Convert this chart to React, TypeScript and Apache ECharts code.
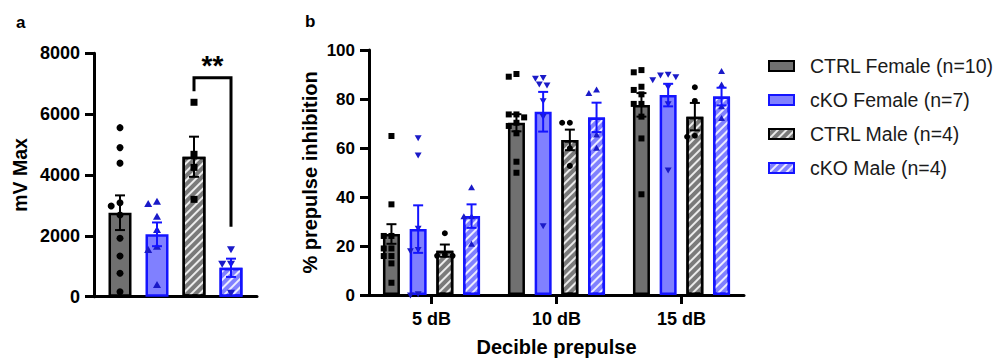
import React, { useEffect, useRef } from "react";
import * as echarts from "echarts";

// ---------------- DATA ----------------
const groups = ["CTRL Female (n=10)", "cKO Female (n=7)", "CTRL Male (n=4)", "cKO Male (n=4)"];
const categoriesA = [""];
const categoriesB = ["5 dB", "10 dB", "15 dB"];
const yTicksA = [0, 2000, 4000, 6000, 8000];
const yTicksB = [0, 20, 40, 60, 80, 100];

// Panel a: mV Max (mean, SEM, individual animals)
const meanA = [2760, 2050, 4600, 950];
const semA = [570, 390, 660, 300];
const pointsA_ctrlF = [5556, 4900, 4390, 3090, 2980, 2686, 1920, 1340, 770, 165];
const pointsA_ckoF = [3123, 3047, 2630, 2193, 1644, 1535, 385];
const pointsA_ctrlM = [6390, 4680, 4250, 3200];
const pointsA_ckoM = [1558, 1080, 1080, 130];
const sigA = { label: "**", top: 7200, leftEnd: 6750, rightEnd: 2300, textAt: 7600 };

// Panel b: % prepulse inhibition, per prepulse level
const meanB_ctrlF = [24.9, 70.3, 77.6];
const semB_ctrlF = [4.0, 3.5, 4.8];
const meanB_ckoF = [26.9, 74.8, 81.6];
const semB_ckoF = [9.7, 8.1, 4.6];
const meanB_ctrlM = [18.1, 63.3, 72.8];
const semB_ctrlM = [2.5, 4.2, 5.6];
const meanB_ckoM = [32.2, 72.5, 81.0];
const semB_ckoM = [4.8, 6.0, 3.6];

const pointsB_ctrlF = [
  [64.9, 37.0, 24.1, 24.1, 19.0, 19.0, 15.9, 15.9, 12.9, 5.0],
  [90.2, 89.1, 73.7, 73.7, 72.5, 70.3, 69.0, 66.0, 54.4, 49.9],
  [91.8, 90.9, 85.0, 83.7, 81.9, 78.0, 78.0, 72.8, 63.9, 41.1],
];
const pointsB_ckoF = [
  [64.2, 57.1, 27.2, 18.6, 18.0, 0.5, 0],
  [88.8, 88.4, 86.1, 85.7, 79.3, 72.8, 28.2],
  [90.1, 89.8, 89.1, 87.8, 85.0, 78.0, 51.0],
];
const pointsB_ctrlM = [
  [25.2, 16.5, 16.0, 16.0],
  [70.3, 70.3, 59.9, 52.7],
  [84.8, 79.2, 65.0, 64.6],
];
const pointsB_ckoM = [
  [43.8, 32.0, 32.0, 20.7],
  [83.7, 82.3, 65.3, 59.9],
  [91.2, 85.7, 76.9, 72.1],
];

// ---------------- STYLE ----------------
const FONT = "'Liberation Sans', Arial, Helvetica, sans-serif";
const GRAY = "#707070";
const GRAY_H = "#7a7a7a";
const BLUE_FILL = "#8080ff";
const BLUE_LINE = "#1414ff";
const BLUE_PT = "#1a1ac8";

const hatch = {
  symbol: "rect",
  symbolSize: 1,
  dashArrayX: [1, 0],
  dashArrayY: [1.6, 3.4],
  rotation: -Math.PI / 4,
  color: "rgba(255,255,255,0.85)",
};

const groupStyles = [
  { color: GRAY, borderColor: "#000", decal: null as any, pt: "#000", line: "#000" },
  { color: BLUE_FILL, borderColor: BLUE_LINE, decal: null as any, pt: BLUE_PT, line: BLUE_LINE },
  { color: GRAY_H, borderColor: "#000", decal: hatch, pt: "#000", line: "#000" },
  { color: BLUE_FILL, borderColor: BLUE_LINE, decal: hatch, pt: BLUE_PT, line: BLUE_LINE },
];

const shapesA = ["circle", "triUp", "square", "triDown"];
const shapesB = ["square", "triDown", "circle", "triUp"];

const BAR_A = 23;
const GAP_A = 14;
const BAR_B = 17;
const GAP_B = 9.7;

function marker(shape: string, cx: number, cy: number, s: number, color: string) {
  const h = s / 2;
  if (shape === "circle") return { type: "circle", shape: { cx, cy, r: h }, style: { fill: color } };
  if (shape === "square")
    return { type: "rect", shape: { x: cx - h, y: cy - h, width: s, height: s }, style: { fill: color } };
  const k = shape === "triUp" ? 1 : -1;
  return {
    type: "polygon",
    shape: {
      points: [
        [cx, cy - k * h * 1.15],
        [cx - h * 1.15, cy + k * h * 0.85],
        [cx + h * 1.15, cy + k * h * 0.85],
      ],
    },
    style: { fill: color },
  };
}

function swarm(ys: number[], d: number): number[] {
  const order = ys.map((_, i) => i).sort((a, b) => ys[a] - ys[b]);
  const xs = new Array(ys.length).fill(0);
  const placed: number[] = [];
  const step = d * 0.55;
  const cands = [0];
  for (let k = 1; k < 10; k++) cands.push(-k * step, k * step);
  for (const i of order) {
    for (const c of cands) {
      let ok = true;
      for (const p of placed) {
        const dx = xs[p] - c;
        const dy = ys[p] - ys[i];
        if (dx * dx + dy * dy < d * d * 0.9) {
          ok = false;
          break;
        }
      }
      if (ok) {
        xs[i] = c;
        break;
      }
    }
    placed.push(i);
  }
  return xs;
}

function overlay(
  axis: number,
  gi: number,
  means: number[],
  sems: number[],
  pts: number[][],
  shape: string,
  size: number,
  offset: number,
  capHalf: number
) {
  const st = groupStyles[gi];
  return {
    type: "custom",
    xAxisIndex: axis,
    yAxisIndex: axis,
    z: 5,
    silent: true,
    data: means.map((m, j) => [j, m]),
    renderItem: (params: any, api: any) => {
      const j = api.value(0);
      const m = api.value(1);
      const c = api.coord([j, m]);
      const cx = c[0] + offset;
      const yT = api.coord([j, m + sems[j]])[1];
      const yB = api.coord([j, m - sems[j]])[1];
      const ys = pts[j].map((v) => api.coord([j, v])[1]);
      const xs = swarm(ys, size + 1);
      const ls = { stroke: st.line, lineWidth: 2 };
      const children: any[] = [];
      ys.forEach((y, k) => children.push(marker(shape, cx + xs[k], y, size, st.pt)));
      children.push({ type: "line", shape: { x1: cx, y1: yT, x2: cx, y2: yB }, style: ls });
      children.push({ type: "line", shape: { x1: cx - capHalf, y1: yT, x2: cx + capHalf, y2: yT }, style: ls });
      children.push({ type: "line", shape: { x1: cx - capHalf, y1: yB, x2: cx + capHalf, y2: yB }, style: ls });
      return { type: "group", children };
    },
  };
}

function barSeries(axis: number, gi: number, data: number[], width: number, gap: string) {
  const st = groupStyles[gi];
  const itemStyle: any = { color: st.color, borderColor: st.borderColor, borderWidth: 2.5 };
  if (st.decal) itemStyle.decal = st.decal;
  return {
    type: "bar",
    name: groups[gi],
    xAxisIndex: axis,
    yAxisIndex: axis,
    barWidth: width,
    barGap: gap,
    z: 2,
    itemStyle,
    data,
  };
}

const offA = (i: number) => (i - 1.5) * (BAR_A + GAP_A);
const offB = (i: number) => (i - 1.5) * (BAR_B + GAP_B);

const axisLabelStyle = {
  color: "#000",
  fontFamily: FONT,
  fontWeight: "bold" as const,
  fontSize: 17,
  formatter: (v: any) => String(v),
};

const option: any = {
  animation: false,
  backgroundColor: "#fff",
  textStyle: { fontFamily: FONT },
  grid: [
    { left: 94, top: 53.3, width: 163, height: 243.4, outerBoundsMode: "none", containLabel: false },
    { left: 369, top: 50, width: 375, height: 245, outerBoundsMode: "none", containLabel: false },
  ],
  legend: {
    orient: "vertical",
    left: 768,
    top: 56,
    padding: 0,
    icon: "rect",
    itemWidth: 25,
    itemHeight: 10,
    itemGap: 14,
    data: groups,
    selectedMode: false,
    textStyle: { fontFamily: FONT, fontSize: 19.5, color: "#1a1a1a", lineHeight: 20, padding: [0, 0, 0, 11] },
  },
  xAxis: [
    {
      type: "category",
      gridIndex: 0,
      data: categoriesA,
      axisLine: { lineStyle: { color: "#000", width: 3 } },
      axisTick: { show: false },
      axisLabel: { show: false },
    },
    {
      type: "category",
      gridIndex: 1,
      data: categoriesB,
      axisLine: { lineStyle: { color: "#000", width: 3 } },
      axisTick: { show: true, alignWithLabel: true, length: 9, lineStyle: { color: "#000", width: 3 } },
      axisLabel: { color: "#000", fontFamily: FONT, fontWeight: "bold", fontSize: 18, margin: 15 },
      name: "Decible prepulse",
      nameLocation: "middle",
      nameGap: 42,
      nameTextStyle: { color: "#000", fontFamily: FONT, fontWeight: "bold", fontSize: 20 },
    },
  ],
  yAxis: [
    {
      type: "value",
      gridIndex: 0,
      min: yTicksA[0],
      max: yTicksA[yTicksA.length - 1],
      interval: yTicksA[1] - yTicksA[0],
      splitLine: { show: false },
      axisLine: { show: true, lineStyle: { color: "#000", width: 3 } },
      axisTick: { show: true, length: 9, lineStyle: { color: "#000", width: 3 } },
      axisLabel: { ...axisLabelStyle, fontSize: 18, margin: 14 },
      name: "mV Max",
      nameLocation: "middle",
      nameGap: 64,
      nameTextStyle: { color: "#000", fontFamily: FONT, fontWeight: "bold", fontSize: 19.5 },
    },
    {
      type: "value",
      gridIndex: 1,
      min: yTicksB[0],
      max: yTicksB[yTicksB.length - 1],
      interval: yTicksB[1] - yTicksB[0],
      splitLine: { show: false },
      axisLine: { show: true, lineStyle: { color: "#000", width: 3 } },
      axisTick: { show: true, length: 9, lineStyle: { color: "#000", width: 3 } },
      axisLabel: { ...axisLabelStyle, margin: 14 },
      name: "% prepulse inhibition",
      nameLocation: "middle",
      nameGap: 49,
      nameTextStyle: { color: "#000", fontFamily: FONT, fontWeight: "bold", fontSize: 20 },
    },
  ],
  graphic: [
    { type: "text", left: 16, top: 14, style: { text: "a", font: `bold 17px ${FONT}`, fill: "#000" } },
    { type: "text", left: 305, top: 13, style: { text: "b", font: `bold 17px ${FONT}`, fill: "#000" } },
  ],
  series: [
    // panel a bars
    barSeries(0, 0, [meanA[0]], BAR_A, `${(GAP_A / BAR_A) * 100}%`),
    barSeries(0, 1, [meanA[1]], BAR_A, `${(GAP_A / BAR_A) * 100}%`),
    barSeries(0, 2, [meanA[2]], BAR_A, `${(GAP_A / BAR_A) * 100}%`),
    barSeries(0, 3, [meanA[3]], BAR_A, `${(GAP_A / BAR_A) * 100}%`),
    // panel b bars
    barSeries(1, 0, meanB_ctrlF, BAR_B, `${(GAP_B / BAR_B) * 100}%`),
    barSeries(1, 1, meanB_ckoF, BAR_B, `${(GAP_B / BAR_B) * 100}%`),
    barSeries(1, 2, meanB_ctrlM, BAR_B, `${(GAP_B / BAR_B) * 100}%`),
    barSeries(1, 3, meanB_ckoM, BAR_B, `${(GAP_B / BAR_B) * 100}%`),
    // panel a points + error bars
    overlay(0, 0, [meanA[0]], [semA[0]], [pointsA_ctrlF], shapesA[0], 7, offA(0), 5),
    overlay(0, 1, [meanA[1]], [semA[1]], [pointsA_ckoF], shapesA[1], 7, offA(1), 5),
    overlay(0, 2, [meanA[2]], [semA[2]], [pointsA_ctrlM], shapesA[2], 7, offA(2), 5),
    overlay(0, 3, [meanA[3]], [semA[3]], [pointsA_ckoM], shapesA[3], 7, offA(3), 5),
    // panel b points + error bars
    overlay(1, 0, meanB_ctrlF, semB_ctrlF, pointsB_ctrlF, shapesB[0], 6, offB(0), 5),
    overlay(1, 1, meanB_ckoF, semB_ckoF, pointsB_ckoF, shapesB[1], 6, offB(1), 5),
    overlay(1, 2, meanB_ctrlM, semB_ctrlM, pointsB_ctrlM, shapesB[2], 6, offB(2), 5),
    overlay(1, 3, meanB_ckoM, semB_ckoM, pointsB_ckoM, shapesB[3], 6, offB(3), 5),
    // significance bracket on panel a
    {
      type: "custom",
      xAxisIndex: 0,
      yAxisIndex: 0,
      z: 6,
      silent: true,
      data: [[0, sigA.top]],
      renderItem: (params: any, api: any) => {
        const c = api.coord([0, sigA.top]);
        const x1 = c[0] + offA(2);
        const x2 = c[0] + offA(3);
        const yTop = c[1];
        const yL = api.coord([0, sigA.leftEnd])[1];
        const yR = api.coord([0, sigA.rightEnd])[1];
        const yT = api.coord([0, sigA.textAt])[1];
        const ls = { stroke: "#000", lineWidth: 3, fill: "none" };
        return {
          type: "group",
          children: [
            { type: "polyline", shape: { points: [[x1, yL], [x1, yTop], [x2, yTop], [x2, yR]] }, style: ls },
            {
              type: "text",
              style: {
                text: sigA.label,
                x: (x1 + x2) / 2,
                y: yT,
                align: "center",
                verticalAlign: "middle",
                font: `bold 28px ${FONT}`,
                fill: "#000",
              },
            },
          ],
        };
      },
    },
  ],
};

export default function App() {
  const ref = useRef<HTMLDivElement>(null);
  useEffect(() => {
    const chart = echarts.init(ref.current!, undefined, { renderer: "svg" });
    chart.setOption(option);
    return () => chart.dispose();
  }, []);
  return <div ref={ref} style={{ position: "absolute", left: 0, top: 0, width: 1004, height: 358 }} />;
}
